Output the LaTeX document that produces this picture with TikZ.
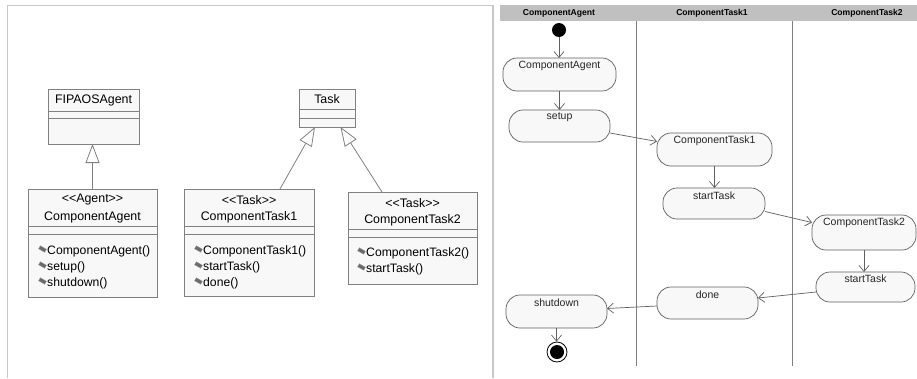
\documentclass[tikz,border=0pt]{standalone}
\usepackage{fontspec}
\setmainfont{Liberation Sans}
\usetikzlibrary{arrows.meta,calc}
\definecolor{boxfill}{HTML}{F8F8F8}
\definecolor{boxline}{HTML}{808080}
\definecolor{lineg}{HTML}{606060}
\definecolor{band}{HTML}{C0C0C0}
\definecolor{frameg}{HTML}{C8C8C8}
\definecolor{icong}{HTML}{6A6A6A}
\newcommand{\lt}{<\kern0pt<}
\newcommand{\gt}{>\kern0pt>}
\begin{document}
\begin{tikzpicture}[x=1pt,y=-1pt,
 classbox/.style={draw=boxline, fill=boxfill, anchor=north west, inner sep=0pt, outer sep=0pt, line width=0.9pt},
 ctext/.style={font=\fontsize{12.4}{14}\selectfont, inner sep=0pt},
 mtext/.style={font=\fontsize{12.2}{14}\selectfont, inner sep=0pt, anchor=west},
 sep/.style={draw=boxline, line width=0.9pt},
 gen/.style={draw=boxline, line width=0.8pt, -{Triangle[open,length=19pt,width=14pt,fill=white]}},
 action/.style={draw=lineg, fill=boxfill, rounded corners=14pt, anchor=north west, inner sep=0pt, outer sep=0pt, line width=0.7pt},
 atext/.style={font=\fontsize{10.5}{12}\selectfont, inner sep=0pt, text=black!85},
 flow/.style={draw=lineg, line width=0.7pt, -{Straight Barb[length=6pt,width=10pt]}},
 lane/.style={draw=boxline, line width=1pt},
 htext/.style={font=\bfseries\fontsize{8.6}{10}\selectfont, inner sep=0pt},
 micon/.style={fill=icong, draw=icong!70, line width=0.3pt, inner sep=0pt, minimum width=7pt, minimum height=3.5pt, rotate=-30},
]
\useasboundingbox (0,0) rectangle (917,378);
\fill[white] (0,0) rectangle (917,378);

% ---------- left panel frame ----------
\draw[frameg, line width=1pt] (7,378) -- (7,5) -- (493,5);
\draw[frameg, line width=1.5pt] (493,5) -- (493,378);

% ---------- class diagram ----------
\node[classbox, minimum width=91pt, minimum height=55pt] (fipa) at (48,89) {};
\draw[sep] (48,111) -- (139,111) (48,118) -- (139,118);
\node[ctext] (fipaN) at (93.5,100) {FIPAOSAgent};

\node[classbox, minimum width=129pt, minimum height=108pt] (ca) at (28,189) {};
\draw[sep] (28,226) -- (157,226) (28,234) -- (157,234);
\node[ctext] (caS) at (92.5,200) {\lt Agent\gt};
\node[ctext] (caN) at (92.5,217) {ComponentAgent};
\node[micon] (caI1) at (42.5,249) {};
\node[micon] (caI2) at (42.5,265) {};
\node[micon] (caI3) at (42.5,281) {};
\node[mtext] (caM1) at (47,251) {ComponentAgent()};
\node[mtext] (caM2) at (47,267) {setup()};
\node[mtext] (caM3) at (47,283) {shutdown()};

\node[classbox, minimum width=56pt, minimum height=38pt] (task) at (299,89) {};
\draw[sep] (299,109) -- (355,109) (299,118) -- (355,118);
\node[ctext] (taskN) at (327,99) {Task};

\node[classbox, minimum width=130pt, minimum height=107pt] (ct1) at (184,189) {};
\draw[sep] (184,226) -- (314,226) (184,234) -- (314,234);
\node[ctext] (ct1S) at (249,200) {\lt Task\gt};
\node[ctext] (ct1N) at (249,217) {ComponentTask1};
\node[micon] (ct1I1) at (198.5,249) {};
\node[micon] (ct1I2) at (198.5,265) {};
\node[micon] (ct1I3) at (198.5,281) {};
\node[mtext] (ct1M1) at (203,251) {ComponentTask1()};
\node[mtext] (ct1M2) at (203,267) {startTask()};
\node[mtext] (ct1M3) at (203,283) {done()};

\node[classbox, minimum width=129pt, minimum height=92pt] (ct2) at (348,192) {};
\draw[sep] (348,229) -- (477,229) (348,237) -- (477,237);
\node[ctext] (ct2S) at (412.5,203) {\lt Task\gt};
\node[ctext] (ct2N) at (412.5,220) {ComponentTask2};
\node[micon] (ct2I1) at (361.5,251) {};
\node[micon] (ct2I2) at (361.5,267) {};
\node[mtext] (ct2M1) at (366,253) {ComponentTask2()};
\node[mtext] (ct2M2) at (366,269) {startTask()};

\draw[gen] (ca.north) -- (ca.north |- fipa.south);
\draw[gen] ([xshift=31pt]ct1.north) -- ([xshift=-12pt]task.south);
\draw[gen] ([xshift=-30.5pt]ct2.north) -- ([xshift=13.5pt]task.south);

% frame line over the cut box
\fill[white] (494,180) rectangle (499,300);
\draw[frameg, line width=1.5pt] (493,5) -- (493,378);

% ---------- activity diagram ----------
\fill[band] (500,5) rectangle (917,21);
\node[htext] (h1) at (559,13) {ComponentAgent};
\node[htext] (h2) at (712,13) {ComponentTask1};
\node[htext] (h3) at (867,13) {ComponentTask2};
\draw[lane] (636,21) -- (636,366);
\draw[lane] (792,21) -- (792,366);

\node[circle, fill=black, minimum size=14pt, inner sep=0pt] (start) at (559,30) {};

\node[action, minimum width=113pt, minimum height=33pt] (a1) at (503,58) {};
\node[action, minimum width=101pt, minimum height=32pt] (a2) at (509,110) {};
\node[action, minimum width=115pt, minimum height=33pt] (a3) at (657,133) {};
\node[action, minimum width=102pt, minimum height=31pt] (a4) at (663,188) {};
\node[action, minimum width=104pt, minimum height=35pt] (a5) at (812,215) {};
\node[action, minimum width=99pt, minimum height=30pt] (a6) at (816,272) {};
\node[action, minimum width=101pt, minimum height=32pt] (a7) at (657,287) {};
\node[action, minimum width=101pt, minimum height=33pt] (a8) at (506,295) {};

\node[atext] (t1) at ($(a1.north)+(0,8)$) {ComponentAgent};
\node[atext] (t2) at ($(a2.north)+(0,7.5)$) {setup};
\node[atext] (t3) at ($(a3.north)+(0,8)$) {ComponentTask1};
\node[atext] (t4) at ($(a4.north)+(0,7.5)$) {startTask};
\node[atext] (t5) at ($(a5.north)+(0,8)$) {ComponentTask2};
\node[atext] (t6) at ($(a6.north)+(0,7)$) {startTask};
\node[atext] (t7) at ($(a7.north)+(0,7.5)$) {done};
\node[atext] (t8) at ($(a8.north)+(0,8)$) {shutdown};

\node[circle, draw=black, line width=0.8pt, fill=white, minimum size=20pt, inner sep=0pt] (endo) at (557,352) {};
\node[circle, fill=black, minimum size=14pt, inner sep=0pt] (endi) at (557,352) {};

\draw[flow] (start) -- (start |- a1.north);
\draw[flow] (a1.south) -- (a1.south |- a2.north);
\draw[flow] ([yshift=-7pt]a2.east) -- ([yshift=8pt]a3.west);
\draw[flow] (a3.south) -- (a3.south |- a4.north);
\draw[flow] ([yshift=-8pt]a4.east) -- ([yshift=10pt]a5.west);
\draw[flow] (a5.south) -- (a5.south |- a6.north);
\draw[flow] ([yshift=-5pt]a6.west) -- ([yshift=5pt]a7.east);
\draw[flow] ([yshift=-3pt]a7.west) -- ([yshift=3pt]a8.east);
\draw[flow] (a8.south) -- (a8.south |- endo.north);
\end{tikzpicture}
\end{document}
